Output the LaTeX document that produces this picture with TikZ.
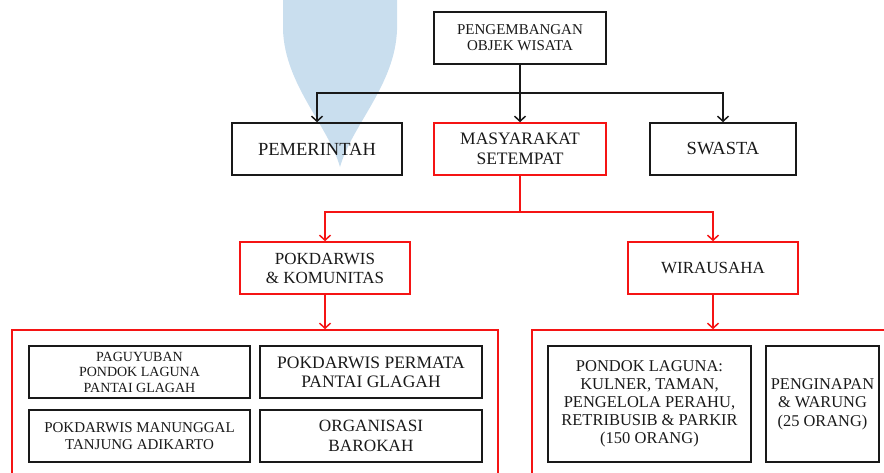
\documentclass[tikz,border=0pt]{standalone}
\usepackage{fontspec}
\setmainfont{Liberation Serif}
\usetikzlibrary{arrows.meta}
\definecolor{wm}{RGB}{201,222,238}
\definecolor{rd}{RGB}{245,20,20}
\definecolor{bk}{RGB}{25,25,25}
\tikzset{
  bbox/.style={draw=bk, line width=1.6pt, inner sep=0pt, align=center, text=bk},
  rbox/.style={draw=rd, line width=1.6pt, inner sep=0pt, align=center, text=bk},
  bline/.style={draw=bk, line width=1.5pt},
  rline/.style={draw=rd, line width=1.5pt},
  tip/.style={-{Straight Barb[length=5pt,width=11pt,line width=1.5pt]}},
}
\begin{document}
\begin{tikzpicture}[x=1pt,y=-1pt]
\useasboundingbox (0,0) rectangle (884,472);
\clip (0,0) rectangle (884,472);
% watermark
\fill[wm] (283,-2) -- (283,30) .. controls (285,85) and (328,125) .. (340,167)
  .. controls (352,125) and (395,85) .. (397,30) -- (397,-2) -- cycle;
% nodes
\node[bbox, minimum width=172pt, minimum height=52pt, font=\fontsize{15}{16}\selectfont] (top) at (520,38) {PENGEMBANGAN\\OBJEK WISATA};
\node[bbox, font=\fontsize{18.5}{20}\selectfont, minimum width=170pt, minimum height=52pt] (pem) at (317,149) {PEMERINTAH};
\node[rbox, font=\fontsize{17.5}{19.5}\selectfont, minimum width=172pt, minimum height=52pt] (mas) at (520,149) {MASYARAKAT\\SETEMPAT};
\node[bbox, font=\fontsize{18.5}{20}\selectfont, minimum width=146pt, minimum height=52pt] (swa) at (723,149) {SWASTA};
\node[rbox, font=\fontsize{17}{19}\selectfont, minimum width=170pt, minimum height=52pt] (pok) at (325,268) {POKDARWIS\\\& KOMUNITAS};
\node[rbox, font=\fontsize{17}{19}\selectfont, minimum width=170pt, minimum height=52pt] (wir) at (713,268) {WIRAUSAHA};
\node[rbox, minimum width=486pt, minimum height=170pt] (lbig) at (255,415) {};
\node[rbox, minimum width=390pt, minimum height=170pt] (rbig) at (727,415) {};
\node[bbox, minimum width=221pt, minimum height=52pt, font=\fontsize{14}{15.5}\selectfont] (pag) at (139.5,372) {PAGUYUBAN\\PONDOK LAGUNA\\PANTAI GLAGAH};
\node[bbox, minimum width=222pt, minimum height=52pt, font=\fontsize{17.5}{19}\selectfont] (per) at (371,372) {POKDARWIS PERMATA\\PANTAI GLAGAH};
\node[bbox, font=\fontsize{15}{16.5}\selectfont, minimum width=221pt, minimum height=52pt] (man) at (139.5,436) {POKDARWIS MANUNGGAL\\TANJUNG ADIKARTO};
\node[bbox, minimum width=222pt, minimum height=52pt, font=\fontsize{17.2}{19.5}\selectfont] (org) at (371,436) {ORGANISASI\\BAROKAH};
\node[bbox, minimum width=203pt, minimum height=116pt, font=\fontsize{16.5}{18}\selectfont] (pon) at (649.5,404) {PONDOK LAGUNA:\\KULNER, TAMAN,\\PENGELOLA PERAHU,\\RETRIBUSIB \& PARKIR\\(150 ORANG)};
\node[bbox, minimum width=113pt, minimum height=116pt, font=\fontsize{16.4}{18.5}\selectfont] (pen) at (822.5,404) {PENGINAPAN\\\& WARUNG\\(25 ORANG)};
% connectors
\coordinate (jb) at (520,93);
\coordinate (jr) at (520,212);
\draw[bline, tip] (top.south) -- (mas.north);
\draw[bline, tip] (jb) -| (pem.north);
\draw[bline, tip] (jb) -| (swa.north);
\draw[rline] (mas.south) -- (jr);
\draw[rline, tip] (jr) -| (pok.north);
\draw[rline, tip] (jr) -| (wir.north);
\draw[rline, tip] (pok.south) -- (pok.south |- lbig.north);
\draw[rline, tip] (wir.south) -- (wir.south |- rbig.north);
\end{tikzpicture}
\end{document}
